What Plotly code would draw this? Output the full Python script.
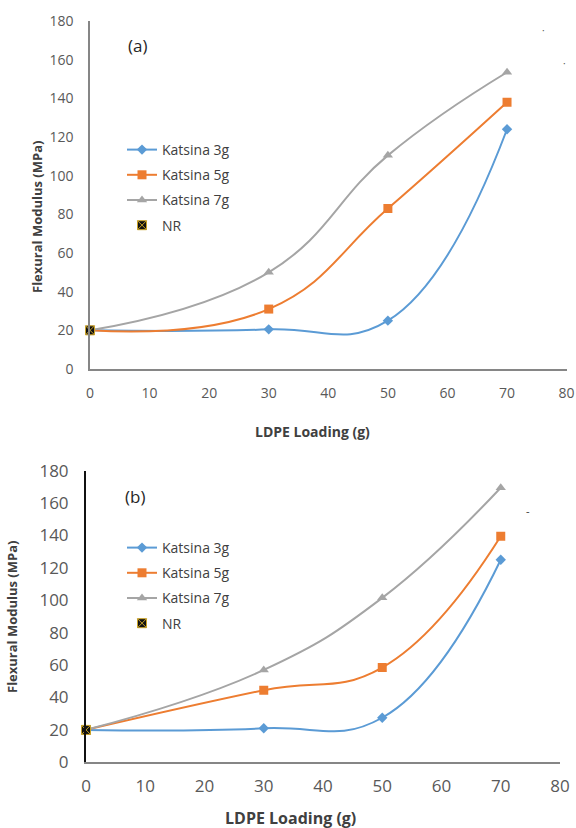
import plotly.graph_objects as go

W, H = 576, 828

# ---- data ----
loading = [0, 30, 50, 70]
a_k3 = [20, 20.5, 25, 124]
a_k5 = [20, 31, 83, 138]
a_k7 = [20, 50, 110.5, 153.5]
b_k3 = [20, 21, 27.5, 125]
b_k5 = [20, 44.5, 58.5, 139.5]
b_k7 = [20, 57, 101.5, 169.5]
nr_x = [0]
nr_y = [20]
series_names = ["Katsina 3g", "Katsina 5g", "Katsina 7g", "NR"]
x_ticks = [0, 10, 20, 30, 40, 50, 60, 70, 80]
y_ticks = [0, 20, 40, 60, 80, 100, 120, 140, 160, 180]

colors = ["#5B9BD5", "#ED7D31", "#A5A5A5"]
symbols = ["diamond", "square", "triangle-up"]
msizes = [8, 9, 9]

FONT = "Open Sans"


def fx(p):
    return p / W


def fy(p):
    return 1 - p / H


fig = go.Figure()

panels = [
    ("x", "y", "legend", [a_k3, a_k5, a_k7]),
    ("x2", "y2", "legend2", [b_k3, b_k5, b_k7]),
]
for xa, ya, lg, data in panels:
    for i, vals in enumerate(data):
        fig.add_trace(go.Scatter(
            x=loading, y=vals, name=series_names[i], mode="lines+markers",
            xaxis=xa, yaxis=ya, legend=lg, legendgroup=lg + str(i),
            line=dict(color=colors[i], width=2, shape="spline", smoothing=1.25),
            marker=dict(symbol=symbols[i], size=msizes[i], color=colors[i]),
        ))
    fig.add_trace(go.Scatter(
        x=nr_x, y=nr_y, name=series_names[3], mode="markers",
        xaxis=xa, yaxis=ya, legend=lg, legendgroup=lg + "3",
        marker=dict(symbol="square-x", size=9, color="#111111",
                    line=dict(color="#C9A227", width=1)),
        cliponaxis=False,
    ))

axis_common = dict(range=[0, 80], tickvals=x_ticks, showgrid=False,
                   zeroline=False, ticks="", showline=True, automargin=False)
yaxis_common = dict(range=[0, 180], tickvals=y_ticks, showgrid=False,
                    zeroline=False, ticks="", showline=True, automargin=False)

fig.update_layout(
    width=W, height=H,
    margin=dict(l=0, r=0, t=0, b=0, pad=0, autoexpand=False),
    paper_bgcolor="white", plot_bgcolor="white",
    showlegend=True,
    xaxis=dict(**axis_common, domain=[fx(90), fx(566.6)], anchor="y",
               linecolor="#868686", linewidth=1.5,
               tickfont=dict(family=FONT, size=14, color="#595959"),
               ticklabelstandoff=10),
    yaxis=dict(**yaxis_common, domain=[fy(369), fy(21)], anchor="x",
               linecolor="#868686", linewidth=1.5,
               tickfont=dict(family=FONT, size=14, color="#595959"),
               ticklabelstandoff=12),
    xaxis2=dict(**axis_common, domain=[fx(86), fx(560)], anchor="y2",
                linecolor="#868686", linewidth=1.5,
                tickfont=dict(family=FONT, size=17, color="#595959"),
                ticklabelstandoff=8),
    yaxis2=dict(**yaxis_common, domain=[fy(762.3), fy(470.7)], anchor="x2",
                linecolor="#111111", linewidth=2,
                tickfont=dict(family=FONT, size=17, color="#595959"),
                ticklabelstandoff=12),
    legend=dict(x=fx(122), y=fy(134), xanchor="left", yanchor="top",
                font=dict(family=FONT, size=14, color="#404040"),
                bgcolor="rgba(0,0,0,0)", tracegroupgap=4,
                itemclick=False),
    legend2=dict(x=fx(122), y=fy(532), xanchor="left", yanchor="top",
                 font=dict(family=FONT, size=14, color="#404040"),
                 bgcolor="rgba(0,0,0,0)", tracegroupgap=4,
                 itemclick=False),
)

ann = [
    dict(text="(a)", x=fx(137), y=fy(45), font=dict(family=FONT, size=17, color="#262626")),
    dict(text="(b)", x=fx(135), y=fy(496), font=dict(family=FONT, size=17, color="#262626")),
    dict(text="<b>Flexural Modulus (MPa)</b>", x=fx(37), y=fy(217), textangle=-90,
         font=dict(family=FONT, size=13, color="#404040")),
    dict(text="<b>Flexural Modulus (MPa)</b>", x=fx(12), y=fy(617), textangle=-90,
         font=dict(family=FONT, size=13, color="#404040")),
    dict(text="<b>LDPE Loading (g)</b>", x=fx(312), y=fy(431),
         font=dict(family=FONT, size=14, color="#404040")),
    dict(text="<b>LDPE Loading (g)</b>", x=fx(290), y=fy(818),
         font=dict(family=FONT, size=16, color="#404040")),
    dict(text="·", x=fx(543), y=fy(30), font=dict(family=FONT, size=10, color="#555555")),
    dict(text="·", x=fx(564), y=fy(63), font=dict(family=FONT, size=10, color="#555555")),
    dict(text="-", x=fx(528), y=fy(511), font=dict(family=FONT, size=11, color="#333333")),
]
for a in ann:
    a.update(xref="paper", yref="paper", showarrow=False, xanchor="center", yanchor="middle")
fig.update_layout(annotations=ann)

fig.write_html("out.html")
